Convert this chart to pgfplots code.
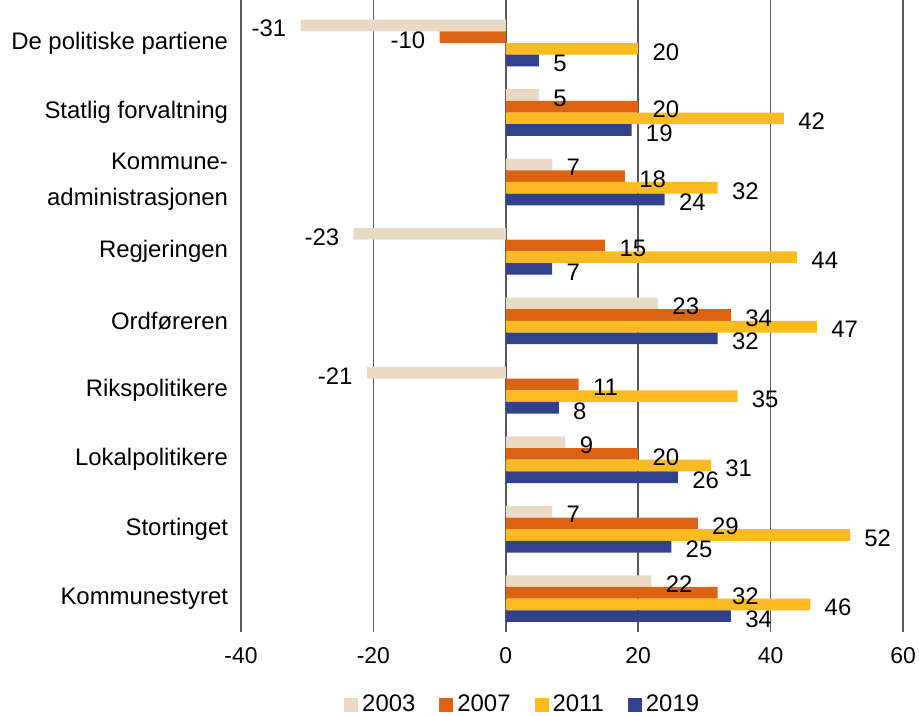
\documentclass[border=0pt]{standalone}
\usepackage{fontspec}
\setmainfont{Liberation Sans}
\usepackage{pgfplots}
\pgfplotsset{compat=1.18}
\definecolor{c2003}{RGB}{233,218,198}
\definecolor{c2007}{RGB}{221,99,20}
\definecolor{c2011}{RGB}{252,187,33}
\definecolor{c2019}{RGB}{50,65,140}
\begin{document}
\begin{tikzpicture}
\begin{axis}[
  scale only axis, width=331bp, height=316bp,
  xmin=-40, xmax=60, ymin=-0.48, ymax=8.62,
  xtick={-40,-20,...,60},
  ytick={0,...,8},
  yticklabels={Kommunestyret, Stortinget, Lokalpolitikere, Rikspolitikere, Ordføreren, Regjeringen, {Kommune-\\administrasjonen}, Statlig forvaltning, De politiske partiene},
  axis line style={draw=none},
  major tick length=0pt,
  xmajorgrids, grid style={draw=black!65, line width=0.8bp},
  font=\fontsize{11.5}{18}\selectfont,
  /pgf/number format/assume math mode=true,
  yticklabel style={align=right, xshift=-3bp, font=\fontsize{12}{18}\selectfont},
  xticklabel style={yshift=-4bp},
  xbar, bar width=0.168,
  nodes near coords, nodes near coords align=horizontal,
  every node near coord/.append style={font=\fontsize{12}{14}\selectfont, inner xsep=7bp, text=black, yshift=-1.5bp},
  legend columns=4,
  legend style={draw=none, at={(0.427,-0.1155)}, anchor=center, font=\fontsize{12}{14}\selectfont,
    /tikz/every even column/.append style={column sep=10bp}},
  legend image code/.code={\fill[#1] (0bp,-3.5bp) rectangle (7bp,3.5bp);},
]
\addplot[fill=c2003, draw=none, bar shift=0.252] coordinates {
  (22,0) (7,1) (9,2) (-21,3) (23,4) (-23,5) (7,6) (5,7) (-31,8)};
\addplot[fill=c2007, draw=none, bar shift=0.084] coordinates {
  (32,0) (29,1) (20,2) (11,3) (34,4) (15,5) (18,6) (20,7) (-10,8)};
\addplot[fill=c2011, draw=none, bar shift=-0.084] coordinates {
  (46,0) (52,1) (31,2) (35,3) (47,4) (44,5) (32,6) (42,7) (20,8)};
\addplot[fill=c2019, draw=none, bar shift=-0.252] coordinates {
  (34,0) (25,1) (26,2) (8,3) (32,4) (7,5) (24,6) (19,7) (5,8)};
\legend{2003,2007,2011,2019}
\end{axis}
\pgfresetboundingbox
\path[use as bounding box] ([xshift=-120.5bp,yshift=-42bp]current axis.south west) rectangle ([xshift=8bp]current axis.north east);
\end{tikzpicture}
\end{document}
